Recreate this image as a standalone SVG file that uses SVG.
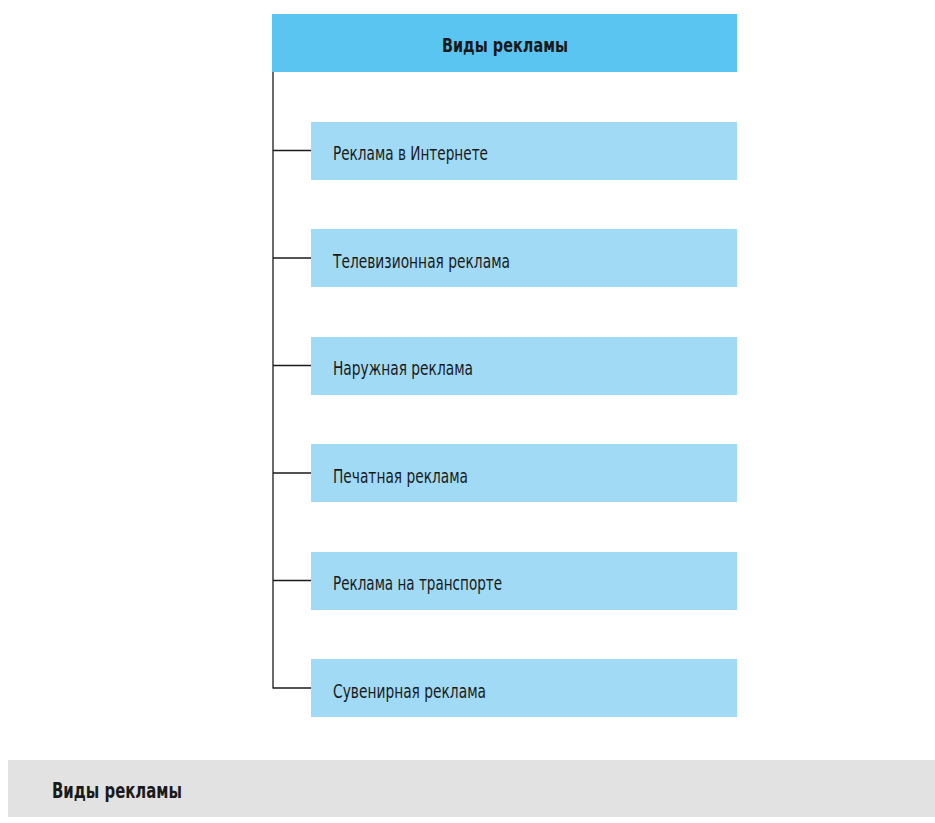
<svg xmlns="http://www.w3.org/2000/svg" width="935" height="823" viewBox="0 0 935 823">
<style>
.hdr{fill:#5BC5F2}
.child{fill:#A1DAF5}
.bar{fill:#E2E2E2}
.t{font-family:"DejaVu Sans Condensed","DejaVu Sans","Liberation Sans",sans-serif;font-stretch:condensed;fill:#1a1a1a;font-size:20px}
.tb{font-family:"DejaVu Sans Condensed","DejaVu Sans","Liberation Sans",sans-serif;font-stretch:condensed;font-weight:bold;fill:#1a1a1a;font-size:19px}
.ts{font-family:"DejaVu Sans Condensed","DejaVu Sans","Liberation Sans",sans-serif;font-stretch:condensed;font-weight:bold;fill:#1a1a1a;font-size:22px}
.ln{stroke:#1a1a1a;stroke-width:1.3;fill:none}
</style>
<rect width="935" height="823" fill="#ffffff"/>
<g id="connectors">
<path class="ln" d="M273 72V688.5"/>
<path class="ln" d="M273 150.5H311"/>
<path class="ln" d="M273 258H311"/>
<path class="ln" d="M273 365.5H311"/>
<path class="ln" d="M273 473H311"/>
<path class="ln" d="M273 580.5H311"/>
<path class="ln" d="M273 688H311"/>
</g>
<g id="root">
<rect class="hdr" x="272" y="14" width="465" height="58"/>
<text class="tb" x="442" y="52" textLength="126" lengthAdjust="spacingAndGlyphs">Виды рекламы</text>
</g>
<g id="n1">
<rect class="child" x="311" y="122" width="426" height="58"/>
<text class="t" x="333" y="159.5" textLength="155" lengthAdjust="spacingAndGlyphs">Реклама в Интернете</text>
</g>
<g id="n2">
<rect class="child" x="311" y="229" width="426" height="58"/>
<text class="t" x="333" y="267.5" textLength="177" lengthAdjust="spacingAndGlyphs">Телевизионная реклама</text>
</g>
<g id="n3">
<rect class="child" x="311" y="337" width="426" height="58"/>
<text class="t" x="333" y="375" textLength="140" lengthAdjust="spacingAndGlyphs">Наружная реклама</text>
</g>
<g id="n4">
<rect class="child" x="311" y="444" width="426" height="58"/>
<text class="t" x="333" y="482.5" textLength="135" lengthAdjust="spacingAndGlyphs">Печатная реклама</text>
</g>
<g id="n5">
<rect class="child" x="311" y="552" width="426" height="58"/>
<text class="t" x="333" y="590" textLength="169" lengthAdjust="spacingAndGlyphs">Реклама на транспорте</text>
</g>
<g id="n6">
<rect class="child" x="311" y="659" width="426" height="58"/>
<text class="t" x="333" y="697.5" textLength="153" lengthAdjust="spacingAndGlyphs">Сувенирная реклама</text>
</g>
<g id="caption">
<rect class="bar" x="8" y="760" width="927" height="57"/>
<text class="ts" x="52" y="798" textLength="130" lengthAdjust="spacingAndGlyphs">Виды рекламы</text>
</g>
</svg>
